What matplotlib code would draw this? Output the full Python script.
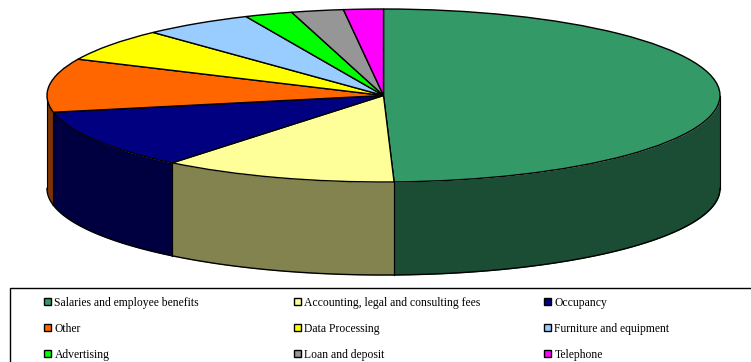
import matplotlib
matplotlib.use('Agg')
import matplotlib.pyplot as plt
from matplotlib.patches import Rectangle
import numpy as np

# Share of total expenses, in percent
labels = ['Salaries and employee benefits', 'Accounting, legal and consulting fees', 'Occupancy',
          'Other', 'Data Processing', 'Furniture and equipment',
          'Advertising', 'Loan and deposit', 'Telephone']
values = [49.5, 11.3, 11.1, 10.0, 6.1, 5.3, 2.3, 2.5, 1.9]
colors = ['#339966', '#FFFF99', '#000080', '#FF6600', '#FFFF00', '#99CCFF', '#00FF00', '#969696', '#FF00FF']
side_colors = ['#1A4D33', '#83834F', '#000040', '#803300', '#808000', '#4D6680', '#008000', '#4B4B4B', '#800080']

W, H = 751, 362
cx, cy = 383.5, 95.5   # pie centre in pixels
rx, ry = 336.5, 86.5   # ellipse radii in pixels
depth = 93 / ry        # wall height in pie units

fig = plt.figure(figsize=(W / 100, H / 100), dpi=100)
ax = fig.add_axes([0, 0, 1, 1])

# Unit-circle pie squashed into an ellipse by the axis limits
ax.pie(values, colors=colors, startangle=90, counterclock=False, radius=1,
       wedgeprops={'edgecolor': 'black', 'linewidth': 1.0, 'zorder': 3})

# Walls: only the front half of the rim (90 to 270 degrees clockwise from the top)
edges = np.cumsum([0] + values) / sum(values) * 360
for i in range(len(values)):
    a0 = max(edges[i], 90)
    a1 = min(edges[i + 1], 270)
    if a1 <= a0:
        continue
    t = np.radians(np.linspace(a0, a1, 100))
    x = np.sin(t)
    y = np.cos(t)
    ax.fill_between(x, y - depth, y, color=side_colors[i], linewidth=0, zorder=1)
    ax.plot(x, y - depth, color='black', lw=1.0, zorder=2)
    for a in (a0, a1):
        xs = np.sin(np.radians(a))
        ys = np.cos(np.radians(a))
        ax.plot([xs, xs], [ys, ys - depth], color='black', lw=0.8, zorder=2)

ax.set_aspect('auto')
ax.set_xlim(-cx / rx, (W - cx) / rx)
ax.set_ylim((cy - H) / ry, cy / ry)
ax.axis('off')

# Legend box and entries, laid out in pixels
lg = fig.add_axes([0, 0, 1, 1])
lg.set_xlim(0, W)
lg.set_ylim(H, 0)
lg.axis('off')
lg.patch.set_alpha(0)
lg.add_patch(Rectangle((10, 288), 745, 90, facecolor='white', edgecolor='black', lw=1.0, clip_on=False))

col_x = [44, 294, 544]
row_y = [302, 328, 354]
for i, name in enumerate(labels):
    x = col_x[i % 3]
    y = row_y[i // 3]
    lg.add_patch(Rectangle((x, y - 4), 7, 7, facecolor=colors[i], edgecolor='black', lw=1.0))
    lg.text(x + 10.5, y + 4, name, family='Liberation Serif', fontsize=8.4, va='baseline', ha='left', color='black')

fig.savefig('out.png', dpi=100)
